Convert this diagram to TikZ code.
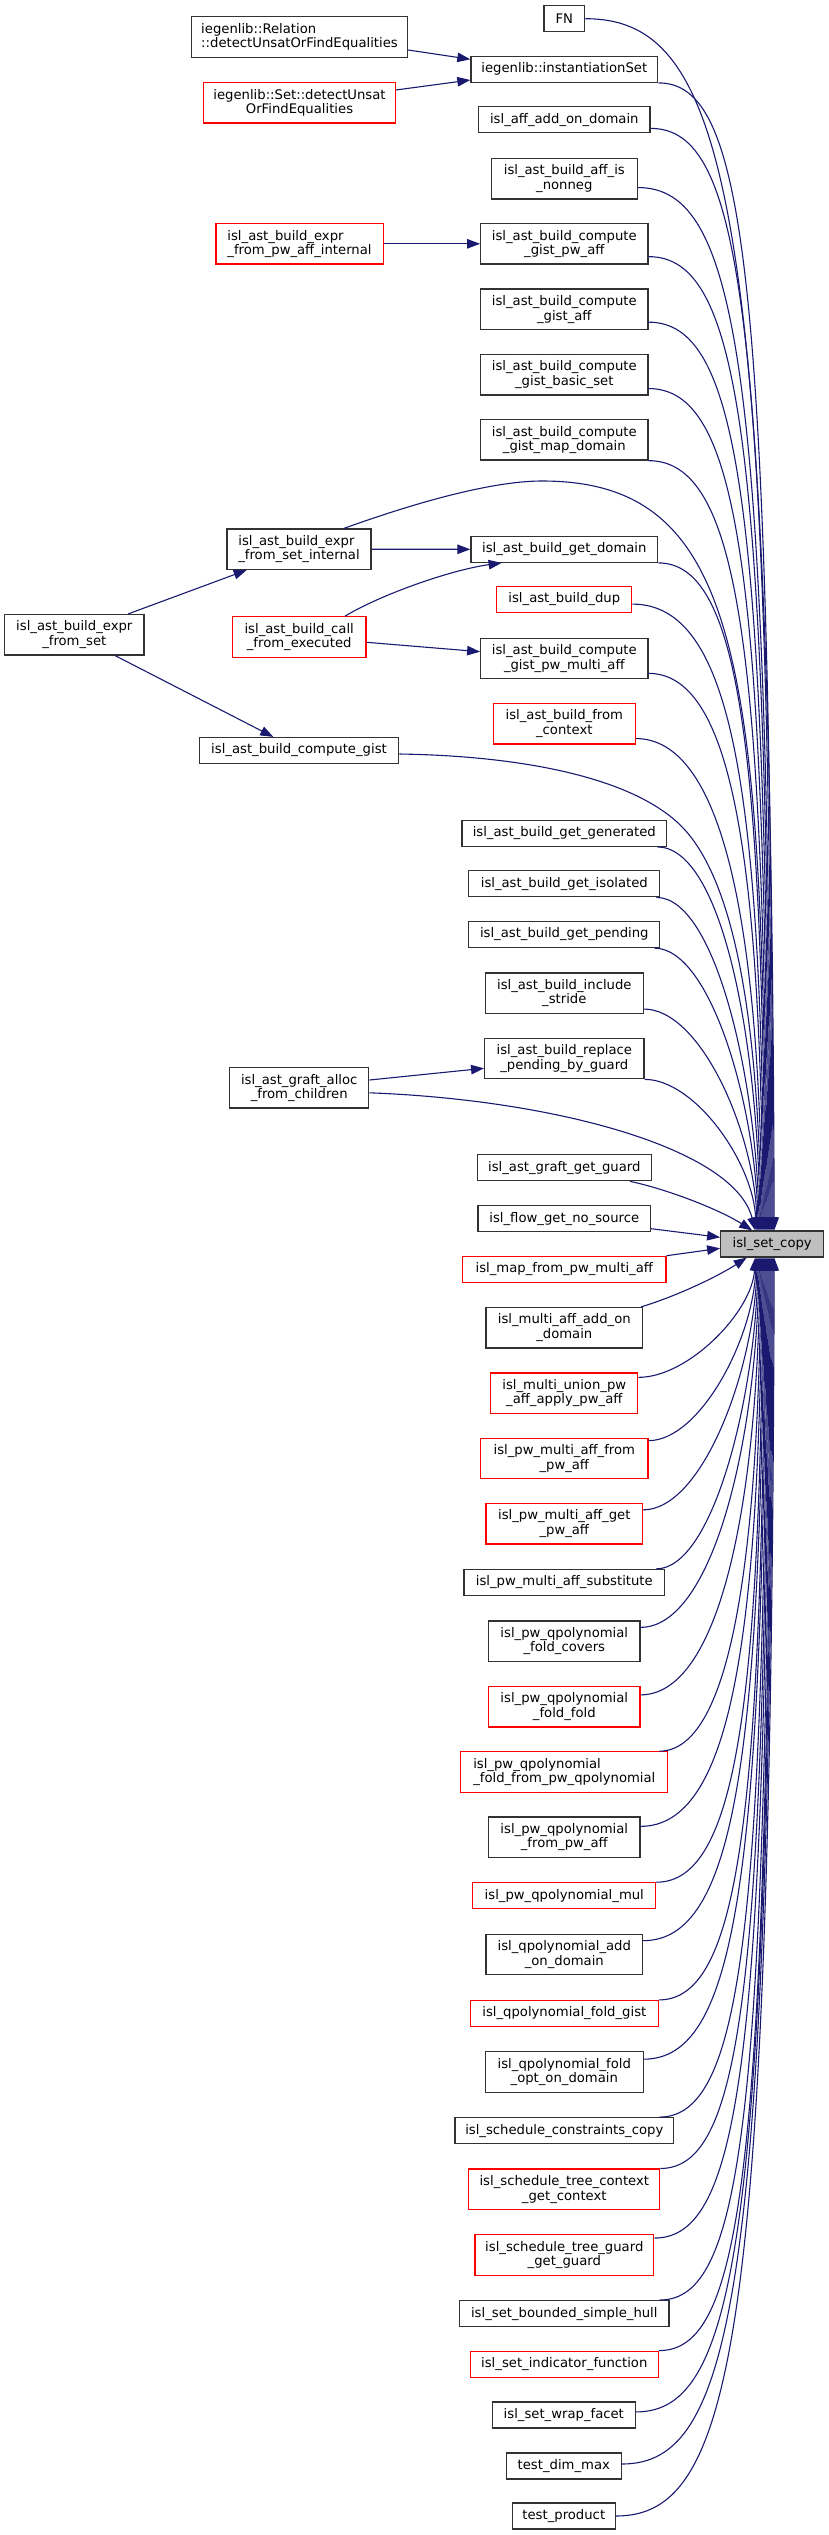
\documentclass[tikz,border=0pt]{standalone}
\usepackage{fontspec}
\setmainfont{DejaVu Sans}
\usetikzlibrary{arrows.meta,calc}
\definecolor{edgeblue}{RGB}{25,25,112}
\definecolor{boxline}{RGB}{50,50,50}
\definecolor{fillgray}{RGB}{191,191,191}
\newcommand\fanhi[2]{%
  \draw[edge] let \p1=(#1), \p2=([xshift=#2pt]sc.north),
    \n1={\y1-(\y2)}, \n2={\x2-(\x1)},
    \n3={0.35+0.4*min(1,\n1/600)}, \n4={min(180,0.55*\n1)}
  in (\p1) .. controls ({\x1+\n3*\n2},\y1) and ({\x2-3pt},{\y1-\n4}) .. (\p2);}
\newcommand\fanlo[2]{%
  \draw[edge] let \p1=(#1), \p2=([xshift=#2pt]sc.south),
    \n1={\y2-(\y1)}, \n2={\x2-(\x1)},
    \n3={0.35+0.4*min(1,\n1/600)}, \n4={min(180,0.55*\n1)}
  in (\p1) .. controls ({\x1+\n3*\n2},\y1) and ({\x2-3pt},{\y1+\n4}) .. (\p2);}
\begin{document}
\begin{tikzpicture}[x=1pt,y=-1pt,
  box/.style={draw=boxline, line width=1.2pt, fill=white, inner xsep=2pt, inner ysep=0pt,
    font=\fontsize{13.2pt}{14.5pt}\selectfont, text=black},
  one/.style={box, minimum height=26pt},
  two/.style={box, minimum height=40.5pt, align=center},
  twol/.style={box, minimum height=40.5pt, align=left},
  rbox/.style={draw=red},
  edge/.style={draw=edgeblue, line width=1.1pt, -{Triangle[length=13pt,width=9.5pt]}}]
\useasboundingbox (0,0) rectangle (829,2535);
% right column
\node[one, minimum width=40.7pt] (FN) at (564.3,18.7) {FN};
\node[one, minimum width=186.8pt] (inst) at (564.3,69.3) {iegenlib::instantiationSet};
\node[one, minimum width=171.4pt] (affadd) at (564.3,119.8) {isl\_aff\_add\_on\_domain};
\node[two, minimum width=146pt] (nonneg) at (564.3,178.7) {isl\_ast\_build\_aff\_is\\\_nonneg};
\node[two, minimum width=167.2pt] (gpa) at (564.3,243.8) {isl\_ast\_build\_compute\\\_gist\_pw\_aff};
\node[two, minimum width=167.2pt] (gaff) at (564.3,309.3) {isl\_ast\_build\_compute\\\_gist\_aff};
\node[two, minimum width=167.2pt] (gbs) at (564.3,374.7) {isl\_ast\_build\_compute\\\_gist\_basic\_set};
\node[two, minimum width=167.2pt] (gmd) at (564.3,439.8) {isl\_ast\_build\_compute\\\_gist\_map\_domain};
\node[one, minimum width=186.8pt] (gd) at (564.3,549.3) {isl\_ast\_build\_get\_domain};
\node[one, rbox, minimum width=134.9pt] (dup) at (564.3,599.5) {isl\_ast\_build\_dup};
\node[two, minimum width=167.2pt] (gpma) at (564.3,658.5) {isl\_ast\_build\_compute\\\_gist\_pw\_multi\_aff};
\node[two, rbox, minimum width=141.8pt] (fctx) at (564.3,723.7) {isl\_ast\_build\_from\\\_context};
\node[one, minimum width=204.8pt] (gen) at (564.3,833.3) {isl\_ast\_build\_get\_generated};
\node[one, minimum width=191pt] (iso) at (564.3,883.8) {isl\_ast\_build\_get\_isolated};
\node[one, minimum width=191pt] (pend) at (564.3,934.5) {isl\_ast\_build\_get\_pending};
\node[two, minimum width=158.2pt] (stride) at (564.3,993.2) {isl\_ast\_build\_include\\\_stride};
\node[two, minimum width=159.3pt] (repl) at (564.3,1058.5) {isl\_ast\_build\_replace\\\_pending\_by\_guard};
\node[one, minimum width=174.1pt] (ggg) at (564.3,1167.7) {isl\_ast\_graft\_get\_guard};
\node[one, minimum width=172.5pt] (flow) at (564.3,1218.7) {isl\_flow\_get\_no\_source};
\node[one, rbox, minimum width=203.2pt] (mapf) at (564.3,1269.3) {isl\_map\_from\_pw\_multi\_aff};
\node[two, minimum width=156.6pt] (maad) at (564.3,1327.7) {isl\_multi\_aff\_add\_on\\\_domain};
\node[two, rbox, minimum width=147.1pt] (mupa) at (564.3,1393.2) {isl\_multi\_union\_pw\\\_aff\_apply\_pw\_aff};
\node[two, rbox, minimum width=167.2pt] (pmafp) at (564.3,1458.5) {isl\_pw\_multi\_aff\_from\\\_pw\_aff};
\node[two, rbox, minimum width=156.6pt] (pmag) at (564.3,1523.7) {isl\_pw\_multi\_aff\_get\\\_pw\_aff};
\node[one, minimum width=200.5pt] (pmas) at (564.3,1582.5) {isl\_pw\_multi\_aff\_substitute};
\node[two, minimum width=151.3pt] (qfc) at (564.3,1641.2) {isl\_pw\_qpolynomial\\\_fold\_covers};
\node[two, rbox, minimum width=151.3pt] (qff) at (564.3,1706.7) {isl\_pw\_qpolynomial\\\_fold\_fold};
\node[twol, rbox, minimum width=206.9pt] (qffp) at (564.3,1772) {isl\_pw\_qpolynomial\\\_fold\_from\_pw\_qpolynomial};
\node[two, minimum width=151.3pt] (qfpa) at (564.3,1837.2) {isl\_pw\_qpolynomial\\\_from\_pw\_aff};
\node[one, rbox, minimum width=183.1pt] (qmul) at (564.3,1895.8) {isl\_pw\_qpolynomial\_mul};
\node[two, minimum width=156.6pt] (qad) at (564.3,1954.5) {isl\_qpolynomial\_add\\\_on\_domain};
\node[one, rbox, minimum width=187.8pt] (qfg) at (564.3,2013.5) {isl\_qpolynomial\_fold\_gist};
\node[two, minimum width=157.7pt] (qfo) at (564.3,2072) {isl\_qpolynomial\_fold\\\_opt\_on\_domain};
\node[one, minimum width=218.5pt] (scc) at (564.3,2130.7) {isl\_schedule\_constraints\_copy};
\node[two, rbox, minimum width=191pt] (stc) at (564.3,2189.3) {isl\_schedule\_tree\_context\\\_get\_context};
\node[two, rbox, minimum width=178.8pt] (stg) at (564.3,2254.9) {isl\_schedule\_tree\_guard\\\_get\_guard};
\node[one, minimum width=209.5pt] (bsh) at (564.3,2313.6) {isl\_set\_bounded\_simple\_hull};
\node[one, rbox, minimum width=187.8pt] (sif) at (564.3,2364.2) {isl\_set\_indicator\_function};
\node[one, minimum width=143pt] (swf) at (563.8,2414.9) {isl\_set\_wrap\_facet};
\node[one, minimum width=115pt] (tdm) at (563.8,2466) {test\_dim\_max};
\node[one, minimum width=103pt] (tp) at (563.8,2516) {test\_product};
% middle column
\node[twol, minimum width=216pt] (rel) at (299.5,37) {iegenlib::Relation\\::detectUnsatOrFindEqualities};
\node[two, rbox, minimum width=191.5pt] (setd) at (299.5,102.7) {iegenlib::Set::detectUnsat\\OrFindEqualities};
\node[twol, rbox, minimum width=167.2pt] (efpai) at (299.5,243.8) {isl\_ast\_build\_expr\\\_from\_pw\_aff\_internal};
\node[twol, minimum width=144pt] (expri) at (299,549.2) {isl\_ast\_build\_expr\\\_from\_set\_internal};
\node[two, rbox, minimum width=133.7pt] (cfe) at (299.2,637) {isl\_ast\_build\_call\\\_from\_executed};
\node[one, minimum width=199.4pt] (cg) at (299,750.5) {isl\_ast\_build\_compute\_gist};
\node[two, minimum width=139.2pt] (ga) at (299.2,1087.8) {isl\_ast\_graft\_alloc\\\_from\_children};
% left
\node[two, minimum width=139.3pt] (efs) at (74.3,634.7) {isl\_ast\_build\_expr\\\_from\_set};
% target
\node[one, fill=fillgray, minimum width=103pt] (sc) at (772.2,1244) {isl\_set\_copy};
% left-side edges
\draw[edge] ([yshift=-13pt]rel.east) -- ([yshift=10pt]inst.west);
\draw[edge] ([yshift=12.7pt]setd.east) -- ([yshift=-10.7pt]inst.west);
\draw[edge] (efpai.east) -- (gpa.west);
\draw[edge] ([xshift=54pt]efs.north) -- ([xshift=-52.3pt]expri.south);
\draw[edge] ([xshift=40.7pt]efs.south) -- ([xshift=-25.7pt]cg.north);
\draw[edge] (expri.east) -- (gd.west);
\draw[edge] ([xshift=45.8pt]cfe.north) .. controls (380,595) and (450,570) .. ([xshift=-62.7pt]gd.south);
\draw[edge] ([yshift=-5.3pt]cfe.east) -- ([yshift=6.8pt]gpma.west);
\draw[edge] ([yshift=7.8pt]ga.east) -- ([yshift=-9.8pt]repl.west);
% custom edges to isl_set_copy
\draw[edge] ([xshift=45pt]expri.north) .. controls (384,514) and (480,481) .. (542,481)
  .. controls (740,481) and (763,661) .. ([xshift=-6pt]sc.north);
\draw[edge] ([yshift=-3.5pt]cg.east) .. controls (530,756) and (640,780) .. (685,830)
  .. controls (730,880) and (758,1000) .. ([xshift=-11pt]sc.north);
\draw[edge] ([yshift=-5pt]ga.east) .. controls (560,1100) and (735,1150) .. ([xshift=-17pt]sc.north);
\draw[edge] ([xshift=-22pt]ggg.south east) .. controls (670,1190) and (720,1210) .. ([xshift=-20pt]sc.north);
\draw[edge] ([yshift=-10pt]flow.east) -- ([yshift=6.7pt]sc.west);
\draw[edge] (mapf.north east) -- ([yshift=-4.3pt]sc.west);
\draw[edge] ([xshift=-2pt]maad.north east) .. controls (680,1295) and (720,1275) .. ([xshift=-25.5pt]sc.south);
% upper fan
\fanhi{repl.south east}{-16}
\fanhi{[yshift=5pt]stride.south east}{-15}
\fanhi{[xshift=-6pt]pend.south east}{-14}
\fanhi{[xshift=-4pt]iso.south east}{-13}
\fanhi{[xshift=-10pt]gen.south east}{-12}
\fanhi{[yshift=6pt]fctx.south east}{-10}
\fanhi{[yshift=6pt]gpma.south east}{-9}
\fanhi{[yshift=9pt]dup.south east}{-8}
\fanhi{gd.south east}{-7}
\fanhi{gmd.south east}{-5}
\fanhi{[yshift=7pt]gbs.south east}{-4}
\fanhi{[yshift=8pt]gaff.south east}{-3}
\fanhi{[yshift=8pt]gpa.south east}{-2}
\fanhi{[yshift=12pt]nonneg.south east}{-1}
\fanhi{[yshift=5pt]affadd.south east}{0}
\fanhi{inst.south east}{1}
\fanhi{FN.east}{2}
% lower fan
\fanlo{[yshift=-5pt]mupa.north east}{-17}
\fanlo{[yshift=-3pt]pmafp.north east}{-16}
\fanlo{[yshift=-7pt]pmag.north east}{-15}
\fanlo{[xshift=-9pt]pmas.north east}{-14}
\fanlo{[yshift=-7pt]qfc.north east}{-13}
\fanlo{[yshift=-9pt]qff.north east}{-12}
\fanlo{[xshift=-9pt]qffp.north east}{-11}
\fanlo{[yshift=-10pt]qfpa.north east}{-10}
\fanlo{qmul.north east}{-9}
\fanlo{[yshift=-7pt]qad.north east}{-8}
\fanlo{qfg.north east}{-7}
\fanlo{[yshift=-8pt]qfo.north east}{-6}
\fanlo{[xshift=-15pt]scc.north east}{-5}
\fanlo{stc.north east}{-4}
\fanlo{[yshift=-4pt]stg.north east}{-3}
\fanlo{[xshift=-10pt]bsh.north east}{-2}
\fanlo{sif.north east}{-1}
\fanlo{[yshift=3pt]swf.east}{0}
\fanlo{[yshift=2pt]tdm.east}{1}
\fanlo{tp.east}{2}
\end{tikzpicture}
\end{document}
